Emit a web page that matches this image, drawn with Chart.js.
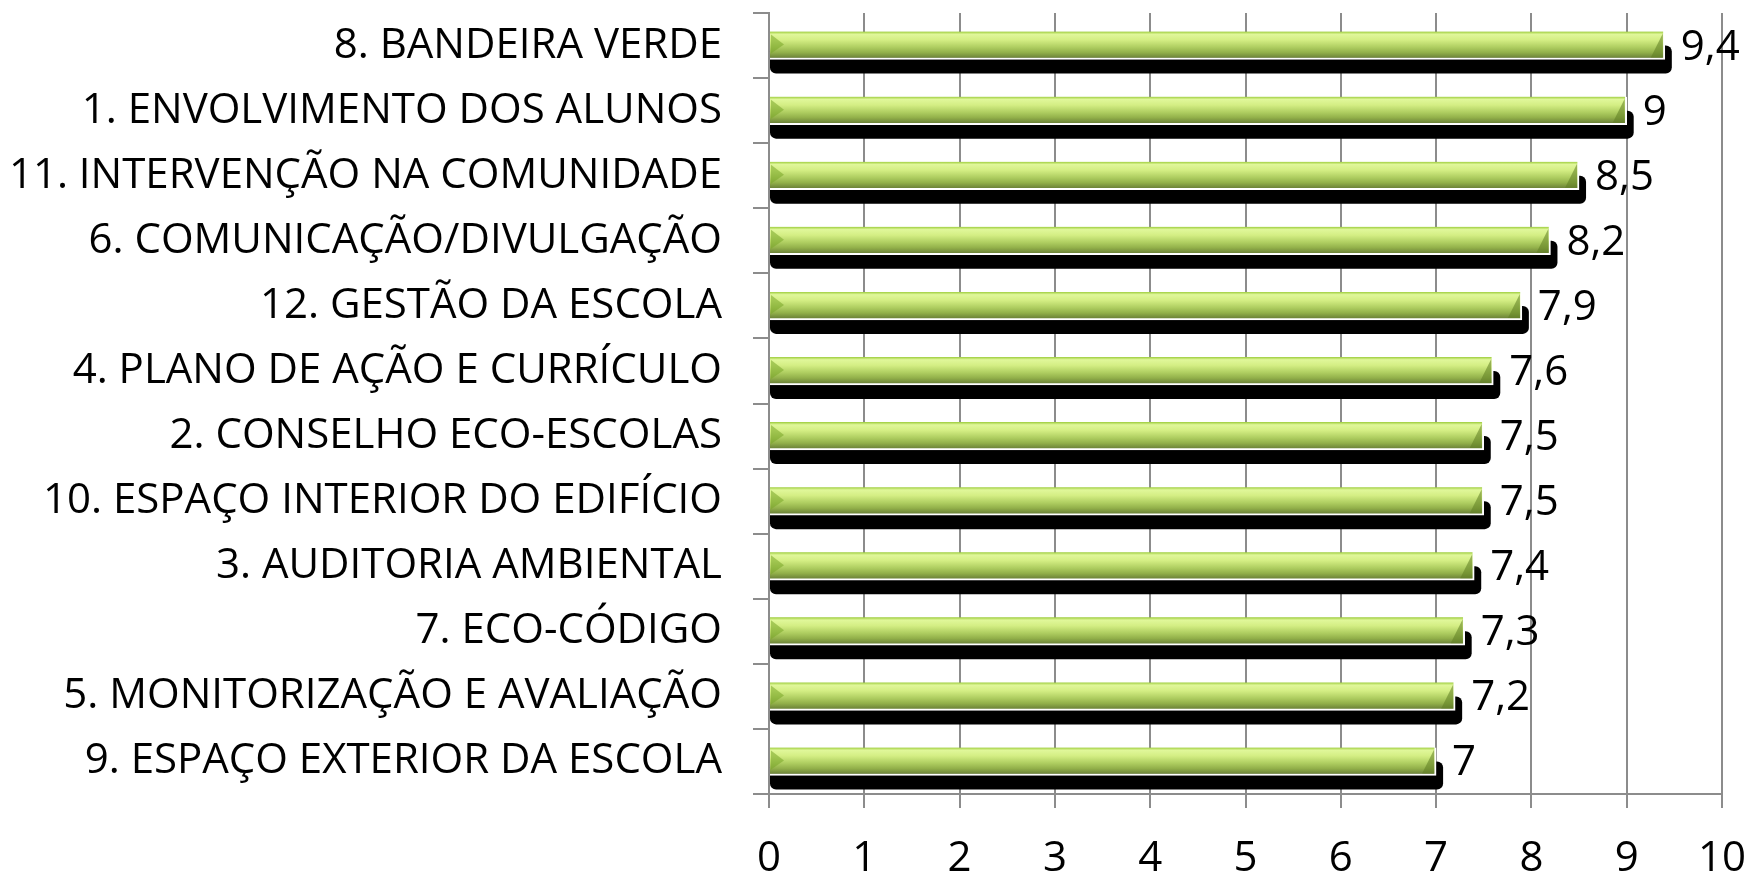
<!DOCTYPE html>
<html>
<head>
<meta charset="utf-8">
<script src="https://cdn.jsdelivr.net/npm/chart.js@4"></script>
<style>
  html, body { margin: 0; padding: 0; background: #fff; }
  #wrap { width: 1748px; height: 874px; }
</style>
</head>
<body>
<div id="wrap"><canvas id="chart" width="1748" height="874"></canvas></div>
<script>
// ---- data ----
const categories = [
    '8. BANDEIRA VERDE',
    '1. ENVOLVIMENTO DOS ALUNOS',
    '11. INTERVENÇÃO NA COMUNIDADE',
    '6. COMUNICAÇÃO/DIVULGAÇÃO',
    '12. GESTÃO DA ESCOLA',
    '4. PLANO DE AÇÃO E CURRÍCULO',
    '2. CONSELHO ECO-ESCOLAS',
    '10. ESPAÇO INTERIOR DO EDIFÍCIO',
    '3. AUDITORIA AMBIENTAL',
    '7. ECO-CÓDIGO',
    '5. MONITORIZAÇÃO E AVALIAÇÃO',
    '9. ESPAÇO EXTERIOR DA ESCOLA'
];
const scores = [9.4, 9, 8.5, 8.2, 7.9, 7.6, 7.5, 7.5, 7.4, 7.3, 7.2, 7];
const xTicks = [0, 1, 2, 3, 4, 5, 6, 7, 8, 9, 10];

const FONT = '"Open Sans", sans-serif';
const GRID = '#8c8c8c';
const BAR_H = 28;

// green bevel-ish gradient, built per bar from the category scale
function barFill(ctx) {
    const chart = ctx.chart;
    const y = chart.scales.y;
    if (!chart.chartArea || !y) return '#b5d65e';
    const cy = y.getPixelForValue(ctx.dataIndex);
    const g = chart.ctx.createLinearGradient(0, cy - BAR_H / 2, 0, cy + BAR_H / 2);
    g.addColorStop(0, '#9ccc3c');
    g.addColorStop(0.1, '#e0f79a');
    g.addColorStop(0.3, '#d4ee84');
    g.addColorStop(0.55, '#b0cf62');
    g.addColorStop(0.75, '#92b04a');
    g.addColorStop(0.9, '#748c3c');
    g.addColorStop(1, '#5f7530');
    return g;
}

// black drop shadow under each bar + bevel ends + value labels
const barDecor = {
    id: 'barDecor',
    beforeDatasetsDraw(chart) {
        const c = chart.ctx;
        c.save();
        c.fillStyle = '#000';
        chart.getDatasetMeta(0).data.forEach(bar => {
            const h = bar.height;
            c.beginPath();
            c.roundRect(bar.base, bar.y - h / 2 + 14, bar.x - bar.base + 7, h, 6);
            c.fill();
        });
        c.restore();
    },
    afterDatasetsDraw(chart) {
        const c = chart.ctx;
        c.save();
        chart.getDatasetMeta(0).data.forEach(bar => {
            const top = bar.y - bar.height / 2, bot = bar.y + bar.height / 2 - 2;
            // left bevel
            c.fillStyle = 'rgba(120,165,40,0.55)';
            c.beginPath();
            c.moveTo(bar.base + 1, top + 3);
            c.lineTo(bar.base + 14, bar.y - 1);
            c.lineTo(bar.base + 1, bot - 4);
            c.closePath();
            c.fill();
            // right bevel
            c.fillStyle = 'rgba(95,125,35,0.55)';
            c.beginPath();
            c.moveTo(bar.x - 2, top + 2);
            c.lineTo(bar.x - 2, bot);
            c.lineTo(bar.x - 14, bot);
            c.closePath();
            c.fill();
        });
        // value labels
        c.fillStyle = '#000';
        c.font = '42px ' + FONT;
        c.textAlign = 'left';
        c.textBaseline = 'middle';
        chart.getDatasetMeta(0).data.forEach((bar, i) => {
            c.fillText(String(scores[i]).replace('.', ','), bar.x + 16, bar.y + 2);
        });
        c.restore();
    }
};

new Chart(document.getElementById('chart'), {
    type: 'bar',
    data: {
        labels: categories,
        datasets: [{
            data: scores,
            backgroundColor: barFill,
            borderColor: '#ffffff',
            borderWidth: { top: 0, left: 0, right: 2, bottom: 2 },
            borderSkipped: false,
            barThickness: BAR_H
        }]
    },
    options: {
        indexAxis: 'y',
        responsive: false,
        animation: false,
        layout: { padding: { top: 13, right: 0, left: 0, bottom: 0 } },
        plugins: { legend: { display: false }, tooltip: { enabled: false } },
        scales: {
            x: {
                min: 0, max: 10,
                afterBuildTicks: s => { s.ticks = xTicks.map(v => ({ value: v })); },
                afterFit: s => { s.height = 80; s.paddingLeft = 0; s.paddingRight = 26; },
                grid: { color: GRID, lineWidth: 2, tickLength: 14 },
                border: { color: GRID, width: 2 },
                ticks: { color: '#000', font: { family: FONT, size: 42 }, padding: 26, maxRotation: 0 }
            },
            y: {
                afterFit: s => { s.width = 769; s.paddingTop = 0; s.paddingBottom = 0; },
                grid: { offset: true, drawOnChartArea: false, color: GRID, lineWidth: 2, tickLength: 16 },
                border: { color: GRID, width: 2 },
                ticks: { color: '#000', font: { family: FONT, size: 42, lineHeight: 1 }, padding: 31, autoSkip: false }
            }
        }
    },
    plugins: [barDecor]
});
</script>
</body>
</html>
